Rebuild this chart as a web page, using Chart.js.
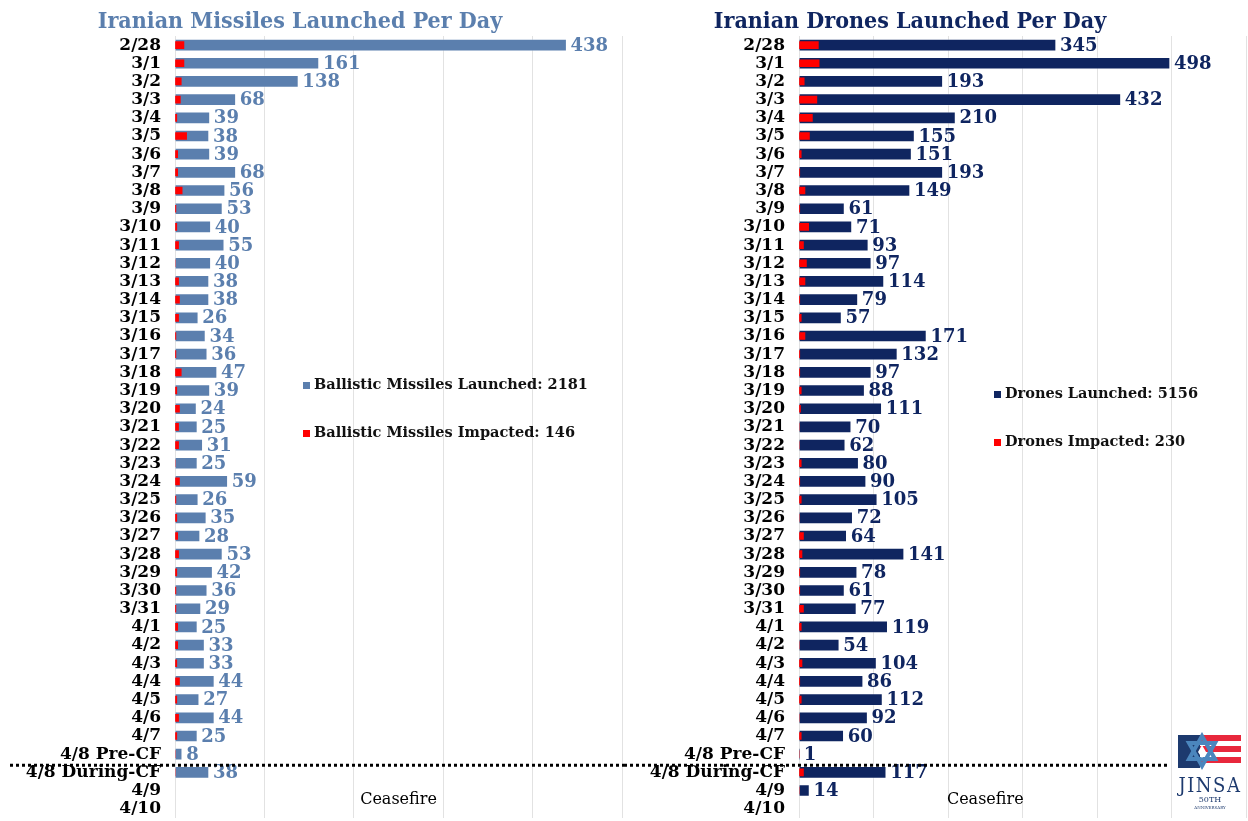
<!DOCTYPE html>
<html>
<head>
<meta charset="utf-8">
<title>Iranian Missiles and Drones Launched Per Day</title>
<script src="https://cdn.jsdelivr.net/npm/chart.js"></script>
<style>
    body { margin: 0; background: #fff; width: 1248px; height: 821px; overflow: hidden; position: relative; font-family: "DejaVu Serif", serif; }
    .box { position: absolute; top: 0; width: 624px; height: 821px; overflow: hidden; }
    .title { position: absolute; top: 6px; font-weight: bold; font-size: 23px; white-space: nowrap; text-align: center; font-family: "DejaVu Serif Condensed", "DejaVu Serif", serif; }
    .legend { position: absolute; font-weight: bold; font-size: 14.5px; color: #111; white-space: nowrap; }
    .legend span { display: inline-block; width: 7px; height: 7px; margin-right: 4px; }
    #logo { position: absolute; left: 1175px; top: 732px; }
</style>
</head>
<body>
<div class="box" style="left:0"><canvas id="missileChart" width="624" height="842"></canvas></div>
<div class="box" style="left:624px"><canvas id="droneChart" width="624" height="842"></canvas></div>

<div class="title" style="left:50px;width:500px;color:#5b7fae">Iranian Missiles Launched Per Day</div>
<div class="title" style="left:660px;width:500px;color:#0f2560">Iranian Drones Launched Per Day</div>

<div class="legend" style="left:303px;top:375px"><span style="background:#5b7fae"></span>Ballistic Missiles Launched: 2181</div>
<div class="legend" style="left:303px;top:423px"><span style="background:#ff0000"></span>Ballistic Missiles Impacted: 146</div>
<div class="legend" style="left:994px;top:384px"><span style="background:#0f2560"></span>Drones Launched: 5156</div>
<div class="legend" style="left:994px;top:432px"><span style="background:#ff0000"></span>Drones Impacted: 230</div>

<svg id="logo" width="72" height="88" viewBox="0 0 72 88">
    <rect x="3" y="3" width="22" height="33" fill="#1d3a6e"/>
    <rect x="25" y="3" width="41" height="6" fill="#e8283c"/>
    <rect x="25" y="14" width="41" height="6" fill="#e8283c"/>
    <rect x="25" y="25" width="41" height="6" fill="#e8283c"/>
    <polygon points="27,4 40,27 14,27" fill="none" stroke="#4b86bd" stroke-width="4"/>
    <polygon points="27,34 40,11 14,11" fill="none" stroke="#4b86bd" stroke-width="4"/>
    <polygon points="27,13 31,20 27,26 23,20" fill="#fff"/>
    <text x="35" y="60" text-anchor="middle" font-family="DejaVu Serif Condensed, DejaVu Serif, serif" font-size="20" letter-spacing="1.5" fill="#1d3a6e">JINSA</text>
    <text x="35" y="70" text-anchor="middle" font-family="DejaVu Serif, serif" font-size="8" fill="#1d3a6e">50TH</text>
    <text x="35" y="77" text-anchor="middle" font-family="DejaVu Serif, serif" font-size="4" fill="#1d3a6e">ANNIVERSARY</text>
</svg>

<script>
const days = ['2/28', '3/1', '3/2', '3/3', '3/4', '3/5', '3/6', '3/7', '3/8', '3/9', '3/10',
    '3/11', '3/12', '3/13', '3/14', '3/15', '3/16', '3/17', '3/18', '3/19', '3/20',
    '3/21', '3/22', '3/23', '3/24', '3/25', '3/26', '3/27', '3/28', '3/29', '3/30', '3/31',
    '4/1', '4/2', '4/3', '4/4', '4/5', '4/6', '4/7', '4/8 Pre-CF', '4/8 During-CF', '4/9', '4/10'];

const missilesLaunched = [438, 161, 138, 68, 39, 38, 39, 68, 56, 53, 40,
    55, 40, 38, 38, 26, 34, 36, 47, 39, 24,
    25, 31, 25, 59, 26, 35, 28, 53, 42, 36, 29,
    25, 33, 33, 44, 27, 44, 25, 8, 38, null, null];
const missilesImpacted = [10, 10, 7, 6, 2, 13, 3, 3, 8, 1, 2,
    4, 0, 4, 5, 4, 1, 1, 7, 2, 5,
    4, 4, 0, 5, 1, 2, 3, 4, 2, 1, 1,
    3, 3, 2, 5, 2, 4, 2, 0, 0, null, null];

const dronesLaunched = [345, 498, 193, 432, 210, 155, 151, 193, 149, 61, 71,
    93, 97, 114, 79, 57, 171, 132, 97, 88, 111,
    70, 62, 80, 90, 105, 72, 64, 141, 78, 61, 77,
    119, 54, 104, 86, 112, 92, 60, 1, 117, 14, null];
const dronesImpacted = [26, 27, 7, 24, 18, 14, 3, 1, 8, 1, 13,
    6, 10, 8, 1, 3, 8, 1, 1, 3, 2,
    0, 0, 3, 1, 3, 0, 6, 4, 1, 1, 6,
    3, 0, 4, 1, 3, 0, 3, 0, 6, 0, null];

const missileColor = '#5b7fae';
const droneColor = '#0f2560';
const impactColor = '#ff0000';

// value labels, dotted ceasefire line and "Ceasefire" note
const extrasPlugin = {
    id: 'extras',
    afterDatasetsDraw(chart, args, opts) {
        const ctx = chart.ctx;
        const xScale = chart.scales.x;
        const yScale = chart.scales.y;
        const meta = chart.getDatasetMeta(1);
        const values = chart.data.datasets[1].data;

        ctx.save();
        ctx.font = 'bold 18px "DejaVu Serif"';
        ctx.fillStyle = opts.color;
        ctx.textAlign = 'left';
        ctx.textBaseline = 'middle';
        meta.data.forEach((bar, i) => {
            if (values[i] === null) return;
            ctx.fillText(values[i], bar.x + 4, bar.y + 1);
        });

        const lineY = (yScale.getPixelForValue(39) + yScale.getPixelForValue(40)) / 2 + 2;
        ctx.strokeStyle = '#000';
        ctx.lineWidth = 3;
        ctx.setLineDash([3, 3]);
        ctx.beginPath();
        ctx.moveTo(opts.lineFrom, lineY);
        ctx.lineTo(opts.lineTo, lineY);
        ctx.stroke();
        ctx.setLineDash([]);

        ctx.font = '16px "DejaVu Serif"';
        ctx.fillStyle = '#000';
        ctx.textAlign = 'center';
        const noteY = (yScale.getPixelForValue(41) + yScale.getPixelForValue(42)) / 2;
        ctx.fillText('Ceasefire', xScale.getPixelForValue(250), noteY);
        ctx.restore();
    }
};

function makeChart(id, launched, impacted, color, maxValue, lineFrom, lineTo) {
    const ctx = document.getElementById(id).getContext('2d');
    return new Chart(ctx, {
        type: 'bar',
        data: {
            labels: days,
            datasets: [{
                label: 'Impacted',
                data: impacted,
                backgroundColor: impactColor,
                borderWidth: 0,
                barThickness: 7,
                grouped: false,
                order: 0
            }, {
                label: 'Launched',
                data: launched,
                backgroundColor: color,
                borderColor: 'rgba(255,255,255,0.3)',
                borderWidth: 1,
                barThickness: 12,
                grouped: false,
                order: 1
            }]
        },
        options: {
            indexAxis: 'y',
            responsive: false,
            animation: false,
            layout: { padding: { top: 36, bottom: 4, right: 2, left: 0 } },
            scales: {
                x: {
                    min: 0,
                    max: maxValue,
                    ticks: { display: false, stepSize: 100, padding: 0 },
                    grid: { color: '#e2e2e2', drawTicks: false },
                    border: { display: false },
                    afterFit: scale => { scale.height = 0; }
                },
                y: {
                    ticks: {
                        color: '#000',
                        padding: 14,
                        autoSkip: false,
                        font: { family: 'DejaVu Serif', size: 17, weight: 'bold' }
                    },
                    grid: { display: false, drawTicks: false },
                    border: { display: false },
                    afterFit: scale => { scale.width = 175; }
                }
            },
            plugins: {
                legend: { display: false },
                tooltip: { enabled: false },
                extras: { color: color, lineFrom: lineFrom, lineTo: lineTo }
            }
        },
        plugins: [extrasPlugin]
    });
}

makeChart('missileChart', missilesLaunched, missilesImpacted, missileColor, 500, 10, 624);
makeChart('droneChart', dronesLaunched, dronesImpacted, droneColor, 600, 0, 544);
</script>
</body>
</html>
